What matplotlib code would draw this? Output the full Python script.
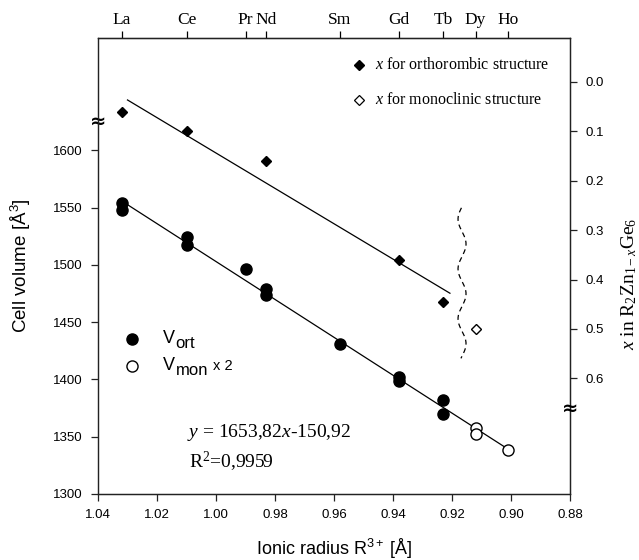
import numpy as np
import matplotlib
matplotlib.use("Agg")
import matplotlib.pyplot as plt

plt.rcParams["font.family"] = ["Liberation Sans", "DejaVu Sans"]
plt.rcParams["mathtext.fontset"] = "custom"
plt.rcParams["mathtext.rm"] = "Liberation Serif"
plt.rcParams["mathtext.it"] = "Liberation Serif:italic"
plt.rcParams["mathtext.sf"] = "Liberation Sans"
SERIF = ["Liberation Serif", "DejaVu Serif"]

# ionic radii (Shannon, CN6) of the rare earths
elements = ["La", "Ce", "Pr", "Nd", "Sm", "Gd", "Tb", "Dy", "Ho"]
radii = [1.032, 1.010, 0.990, 0.983, 0.958, 0.938, 0.923, 0.912, 0.901]

# cell volumes, orthorhombic
r_ort = [1.032, 1.032, 1.010, 1.010, 0.990, 0.983, 0.983, 0.958, 0.938, 0.938, 0.923, 0.923]
v_ort = [1554, 1548, 1524, 1517, 1496, 1479, 1474, 1431, 1402, 1399, 1382, 1370]
# cell volumes, monoclinic (x 2)
r_mon = [0.912, 0.912, 0.901]
v_mon = [1358, 1352, 1338]

# x in R2Zn(1-x)Ge6
r_xo = [1.032, 1.010, 0.983, 0.938, 0.923]
x_ort = [0.061, 0.100, 0.160, 0.360, 0.446]
r_xm = [0.912]
x_mon = [0.500]

# linear fit of the volumes (as printed)
fit_a, fit_b = 1653.82, 150.92
r2 = 0.9959

fig = plt.figure(figsize=(6.39, 5.60), dpi=100)
ax = fig.add_axes([98 / 639, 1 - 494 / 560, 472 / 639, 456 / 560])
ax2 = ax.twinx()

ax.set_xlim(1.04, 0.88)
ax.set_ylim(1300, 1698)
ax2.set_ylim(0.834, -0.089)

# volume fit line
rl = np.array([1.032, 0.901])
ax.plot(rl, fit_a * rl - fit_b, color="black", lw=0.9, zorder=2)
ax.plot(r_ort, v_ort, "o", color="black", ms=8, zorder=3)
ax.plot(r_mon, v_mon, "o", mfc="white", mec="black", mew=1.0, ms=8, zorder=3)

# x fit line
k, c = np.polyfit(r_xo, x_ort, 1)
rx = np.array([1.030, 0.9207])
ax2.plot(rx, k * rx + c, color="black", lw=0.9, zorder=2)
ax2.plot(r_xo, x_ort, "D", color="black", ms=5.6, zorder=3)
ax2.plot(r_xm, x_mon, "D", mfc="white", mec="black", mew=1.0, ms=5.6, zorder=3)

# dashed wavy separator
vv = np.linspace(1549.8, 1418.4, 200)
ax.plot(0.9166 - 0.00136 * np.cos(2 * np.pi * (vv - 1518.2) / 43.5), vv,
        color="black", lw=0.9, ls=(0, (4, 3)), zorder=2)

# ticks
ax.set_xticks(np.arange(1.04, 0.8799, -0.02))
ax.set_xticklabels([f"{t:.2f}" for t in np.arange(1.04, 0.8799, -0.02)])
ax.set_yticks([1300, 1350, 1400, 1450, 1500, 1550, 1600])
ax2.set_yticks([0.0, 0.1, 0.2, 0.3, 0.4, 0.5, 0.6])
ax2.set_yticklabels([f"{t:.1f}" for t in [0.0, 0.1, 0.2, 0.3, 0.4, 0.5, 0.6]])
for a in (ax, ax2):
    a.tick_params(direction="out", length=5, width=0.9, labelsize=9.5, pad=6, color="#222")
    for s in a.spines.values():
        s.set_linewidth(0.9)
        s.set_color("#222")
ax.spines["left"].set_color("#555")

top = ax.secondary_xaxis("top")
top.set_xticks(radii)
top.set_xticklabels(elements, fontfamily=SERIF, fontsize=12.5)
top.tick_params(direction="out", length=5, width=0.9, pad=2)

ax.set_ylabel(r"Cell volume [Å$^{\mathsf{3}}$]", fontsize=13.5)
ax.yaxis.set_label_coords(-0.140, 0.5)
ax.set_xlabel(r"Ionic radius R$^{\mathsf{3+}}$ [Å]", fontsize=13)
ax.xaxis.set_label_coords(0.5, -0.092)
ax2.set_ylabel(r"$\mathit{x}$ in R$_2$Zn$_{1-\mathit{x}}$Ge$_6$", fontfamily=SERIF, fontsize=14)
ax2.yaxis.set_label_coords(1.104, 0.46)

# axis breaks
ax.text(0.0, 1625, "≈", transform=ax.get_yaxis_transform(), ha="center", va="center",
        fontsize=14, fontweight="bold", family="DejaVu Sans", clip_on=False, zorder=10)
ax2.text(1.0, 0.66, "≈", transform=ax2.get_yaxis_transform(), ha="center", va="center",
         fontsize=14, fontweight="bold", family="DejaVu Sans", clip_on=False, zorder=10)

# legend for x (top right)
ax2.plot([0.553], [0.941], "D", color="black", ms=4.8, transform=ax2.transAxes, clip_on=False)
ax2.plot([0.553], [0.864], "D", mfc="white", mec="black", mew=0.9, ms=4.8,
         transform=ax2.transAxes, clip_on=False)
ax2.text(0.587, 0.941, r"$x$ for orthorombic structure", transform=ax2.transAxes,
         fontfamily=SERIF, fontsize=11.5, va="center")
ax2.text(0.587, 0.864, r"$x$ for monoclinic structure", transform=ax2.transAxes,
         fontfamily=SERIF, fontsize=11.5, va="center")

# legend for volumes (lower left)
ax2.plot([0.072], [0.340], "o", color="black", ms=8, transform=ax2.transAxes)
ax2.plot([0.072], [0.281], "o", mfc="white", mec="black", mew=1.0, ms=8, transform=ax2.transAxes)
ax2.text(0.138, 0.340, "V", transform=ax2.transAxes, fontsize=13, va="center")
ax2.annotate("ort", (0.138, 0.340), xycoords=ax2.transAxes, xytext=(9, -3),
             textcoords="offset points", fontsize=12, va="center")
ax2.text(0.138, 0.281, "V", transform=ax2.transAxes, fontsize=13, va="center")
ax2.annotate("mon", (0.138, 0.281), xycoords=ax2.transAxes, xytext=(9, -3),
             textcoords="offset points", fontsize=12, va="center")
ax2.annotate("x 2", (0.138, 0.281), xycoords=ax2.transAxes, xytext=(36, 0),
             textcoords="offset points", fontsize=10.5, va="center")

# fit equation
eq = f"$y$ = {fit_a:.2f}$x$-{fit_b:.2f}".replace(".", ",")
ax.text(1.0099, 1349.9, eq, fontfamily=SERIF, fontsize=14, va="baseline")
ax.text(1.0090, 1322.6, f"R$^2$={r2:.4f}".replace(".", ","), fontfamily=SERIF, fontsize=14,
        va="baseline")

fig.savefig("out.png", dpi=100)
